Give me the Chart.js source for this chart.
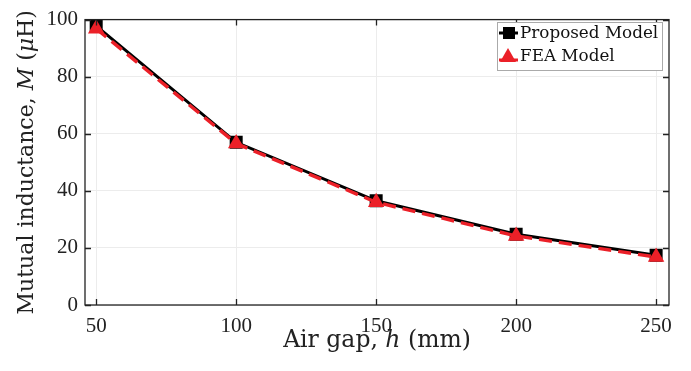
<!DOCTYPE html>
<html>
<head>
<meta charset="utf-8">
<script src="https://cdn.jsdelivr.net/npm/chart.js@4"></script>
<style>
  html, body { margin: 0; padding: 0; background: #fff; }
  #wrap { width: 691px; height: 371px; }
</style>
</head>
<body>
<div id="wrap"><canvas id="chart" width="691" height="371"></canvas></div>
<script>
// data
const airGap = [50, 100, 150, 200, 250]
const proposedM = [97.8, 57, 36.5, 24.8, 17.4]
const feaM = [96.8, 56.6, 36, 24.2, 16.8]
const xTicks = [50, 100, 150, 200, 250]
const yTicks = [0, 20, 40, 60, 80, 100]

const SERIF = '"Liberation Serif", "DejaVu Serif", serif'
const WIDE = '"DejaVu Serif", "Liberation Serif", serif'
const RED = 'rgb(235, 32, 40)'

const frame = {
    id: 'frame',
    afterDraw(chart) {
        const ctx = chart.ctx
        const a = chart.chartArea
        const xs = chart.scales.x, ys = chart.scales.y
        ctx.save()
        // box
        ctx.strokeStyle = '#222'
        ctx.lineWidth = 1.3
        ctx.strokeRect(a.left, a.top, a.right - a.left, a.bottom - a.top)
        // inward ticks
        ctx.beginPath()
        xTicks.forEach(v => {
            const px = Math.round(xs.getPixelForValue(v)) + 0.5
            ctx.moveTo(px, a.bottom); ctx.lineTo(px, a.bottom - 6)
            ctx.moveTo(px, a.top); ctx.lineTo(px, a.top + 6)
        })
        yTicks.forEach(v => {
            const py = Math.round(ys.getPixelForValue(v)) + 0.5
            ctx.moveTo(a.left, py); ctx.lineTo(a.left + 6, py)
            ctx.moveTo(a.right, py); ctx.lineTo(a.right - 6, py)
        })
        ctx.stroke()

        // axis titles with italic symbols
        ctx.fillStyle = '#222'
        ctx.textBaseline = 'alphabetic'
        const drawParts = (parts, size) => {
            let w = 0
            parts.forEach(p => { ctx.font = (p[1] ? 'italic ' : '') + size + 'px ' + WIDE; w += ctx.measureText(p[0]).width })
            let x = -w / 2
            parts.forEach(p => {
                ctx.font = (p[1] ? 'italic ' : '') + size + 'px ' + WIDE
                ctx.fillText(p[0], x, 0)
                x += ctx.measureText(p[0]).width
            })
        }
        ctx.save()
        ctx.translate((a.left + a.right) / 2, 347)
        drawParts([['Air gap, ', false], ['h', true], [' (mm)', false]], 23.5)
        ctx.restore()
        ctx.save()
        ctx.translate(33, (a.top + a.bottom) / 2)
        ctx.rotate(-Math.PI / 2)
        drawParts([['Mutual inductance, ', false], ['M', true], [' (', false], ['\u03bc', true], ['H)', false]], 22)
        ctx.restore()

        // legend box
        const lx = 497, ly = 22, lw = 165, lh = 48
        ctx.fillStyle = '#fff'
        ctx.fillRect(lx, ly, lw, lh)
        ctx.strokeStyle = '#aaa'
        ctx.lineWidth = 1
        ctx.strokeRect(lx + 0.5, ly + 0.5, lw, lh)
        const rows = [
            { label: chart.data.datasets[0].label, y: ly + 11 },
            { label: chart.data.datasets[1].label, y: ly + 34 }
        ]
        // proposed
        ctx.strokeStyle = '#000'
        ctx.lineWidth = 3
        ctx.setLineDash([])
        ctx.beginPath(); ctx.moveTo(lx + 2, rows[0].y); ctx.lineTo(lx + 21, rows[0].y); ctx.stroke()
        ctx.fillStyle = '#000'
        ctx.fillRect(lx + 6, rows[0].y - 6, 12, 12)
        // fea
        ctx.strokeStyle = RED
        ctx.beginPath(); ctx.moveTo(lx + 2, rows[1].y + 4); ctx.lineTo(lx + 21, rows[1].y + 4); ctx.stroke()
        ctx.fillStyle = RED
        ctx.beginPath()
        ctx.moveTo(lx + 11, rows[1].y - 8)
        ctx.lineTo(lx + 19, rows[1].y + 6)
        ctx.lineTo(lx + 3, rows[1].y + 6)
        ctx.closePath(); ctx.fill()
        ctx.fillStyle = '#111'
        ctx.font = '16.8px ' + WIDE
        ctx.textBaseline = 'middle'
        ctx.textAlign = 'left'
        rows.forEach(r => ctx.fillText(r.label, lx + 23, r.y + 1))
        ctx.restore()
    }
}

const ctx = document.getElementById('chart').getContext('2d')
const myChart = new Chart(ctx, {
    type: 'line',
    data: {
        datasets: [{
            label: 'Proposed Model',
            data: airGap.map((x, i) => ({ x: x, y: proposedM[i] })),
            borderColor: '#000',
            backgroundColor: '#000',
            borderWidth: 3,
            pointStyle: 'rect',
            pointRadius: 9.2,
            pointBorderWidth: 0,
            order: 2
        }, {
            label: 'FEA Model',
            data: airGap.map((x, i) => ({ x: x, y: feaM[i] })),
            borderColor: RED,
            backgroundColor: RED,
            borderWidth: 3.4,
            borderDash: [13, 7],
            pointStyle: 'triangle',
            pointRadius: 9.5,
            pointBorderWidth: 0,
            order: 1
        }]
    },
    options: {
        responsive: false,
        animation: false,
        layout: { padding: { left: 0, top: 14, right: 22, bottom: 0 } },
        plugins: { legend: { display: false }, tooltip: { enabled: false } },
        scales: {
            x: {
                type: 'linear',
                min: 46,
                max: 254.6,
                afterBuildTicks: s => { s.ticks = xTicks.map(v => ({ value: v })) },
                afterFit: s => { s.height = 66 },
                grid: { color: '#ececec', drawTicks: false, lineWidth: 1 },
                border: { display: false },
                ticks: { color: '#222', padding: 9, font: { family: SERIF, size: 21 } }
            },
            y: {
                min: 0,
                max: 100,
                afterBuildTicks: s => { s.ticks = yTicks.map(v => ({ value: v })) },
                afterFit: s => { s.width = 85 },
                grid: { color: '#ececec', drawTicks: false, lineWidth: 1 },
                border: { display: false },
                ticks: { color: '#222', padding: 7, font: { family: SERIF, size: 21 } }
            }
        }
    },
    plugins: [frame]
})
</script>
</body>
</html>
